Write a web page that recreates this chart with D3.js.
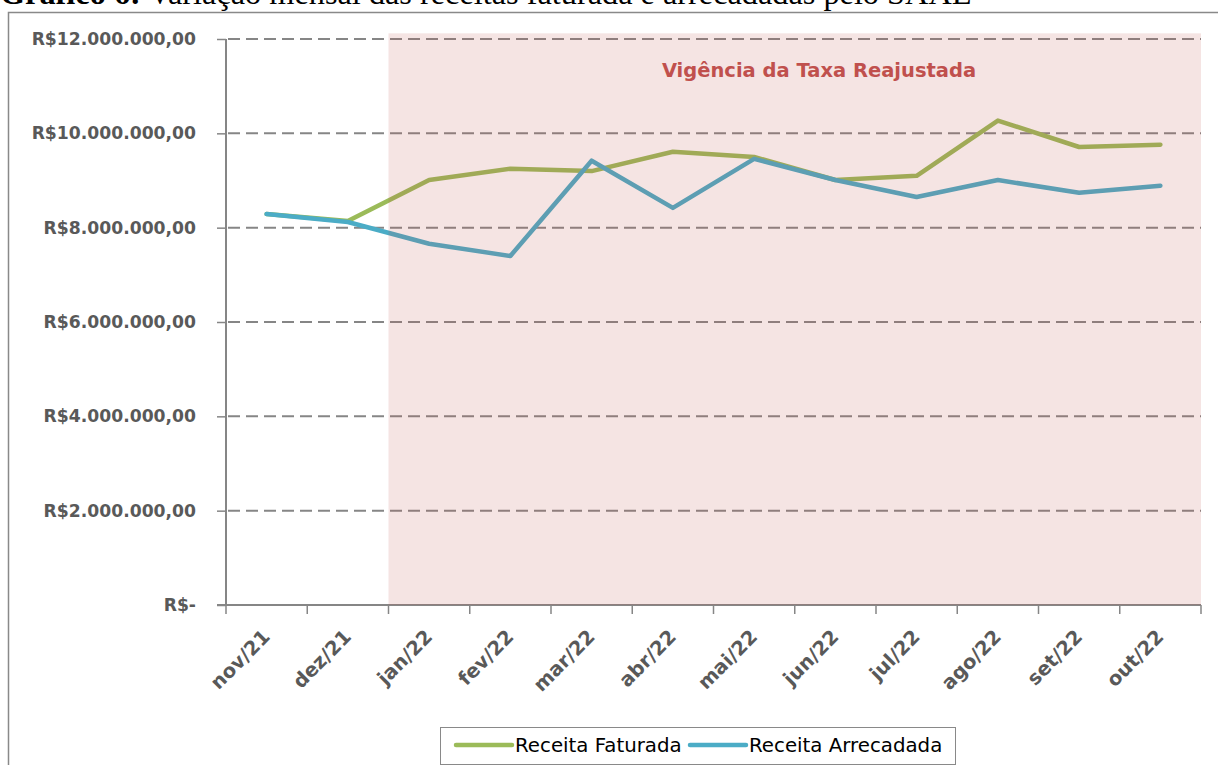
<!DOCTYPE html>
<html>
<head>
<meta charset="utf-8">
<script src="https://cdn.jsdelivr.net/npm/d3@7"></script>
<style>
  body { margin: 0; background: #fff; }
  svg { display: block; }
</style>
</head>
<body>
<svg id="chart" width="1218" height="765"></svg>
<script>
// dados
const months = ["nov/21", "dez/21", "jan/22", "fev/22", "mar/22", "abr/22",
                "mai/22", "jun/22", "jul/22", "ago/22", "set/22", "out/22"];
const faturada = [8290000, 8140000, 9010000, 9250000, 9200000, 9610000,
                  9500000, 9010000, 9100000, 10270000, 9710000, 9760000];
const arrecadada = [8290000, 8120000, 7660000, 7400000, 9420000, 8420000,
                    9460000, 9010000, 8650000, 9010000, 8740000, 8890000];
const yTicks = [0, 2000000, 4000000, 6000000, 8000000, 10000000, 12000000];
const highlightFrom = "jan/22";
const highlightTop = 12120000;
const seriesNames = ["Receita Faturada", "Receita Arrecadada"];
const seriesColors = ["#9bbb59", "#4bacc6"];

const titleBold = "Gráfico 6:";
const titleRest = " Variação mensal das receitas faturada e arrecadadas pelo SAAE";
const highlightLabel = "Vigência da Taxa Reajustada";

const font = "'DejaVu Sans', 'Noto Sans', sans-serif";
const svg = d3.select("#chart");

const ptBR = d3.formatLocale({decimal: ",", thousands: ".", grouping: [3], currency: ["R$", ""]});
const money = ptBR.format("$,.2f");
const fmt = v => v === 0 ? "R$-" : money(v);

const x = d3.scaleBand().domain(months).range([226, 1201]);
const y = d3.scaleLinear().domain([0, 12000000]).range([605, 39]);
const cx = d => x(d) + x.bandwidth() / 2;

// titulo (cortado no topo, como no original)
var title = svg.append("text")
    .attr("x", 0).attr("y", 4)
    .style("font-family", "'Liberation Serif', 'Times New Roman', serif")
    .style("font-size", "32px")
    .style("fill", "#000");
title.append("tspan").style("font-weight", "bold").text(titleBold);
title.append("tspan").text(titleRest);
var tw = title.node().getComputedTextLength();
title.style("font-size", (32 * 972 / tw) + "px");

// moldura
svg.append("rect")
    .attr("x", 8.5).attr("y", 12.5)
    .attr("width", 1240).attr("height", 800)
    .style("fill", "none")
    .style("stroke", "#898989")
    .style("stroke-width", 1.5);

// grade
svg.append("g").selectAll("line")
  .data(yTicks.filter(d => d > 0))
  .enter().append("line")
    .attr("x1", 228).attr("x2", 1201)
    .attr("y1", d => y(d)).attr("y2", d => y(d))
    .style("stroke", "#868686")
    .style("stroke-width", 2)
    .style("stroke-dasharray", "12,6");

// eixo y
var yAxis = d3.axisLeft(y).tickValues(yTicks).tickSize(9).tickFormat(fmt).tickPadding(21);
var gy = svg.append("g").attr("transform", "translate(226,0)").call(yAxis);
gy.select(".domain").style("stroke", "#868686").style("stroke-width", 2)
    .attr("d", `M0,${y(12000000)}V${y(0)}`);
gy.selectAll(".tick line").style("stroke", "#868686").style("stroke-width", 1.5);
gy.selectAll(".tick text")
    .style("font-family", font)
    .style("font-size", "17.2px")
    .style("font-weight", "bold")
    .style("fill", "#595959");

// eixo x
var xAxis = d3.axisBottom(x).tickSize(0).tickFormat(d => d);
var gx = svg.append("g").attr("transform", "translate(0,605)").call(xAxis);
gx.select(".domain").style("stroke", "#868686").style("stroke-width", 2)
    .attr("d", "M217,0H1201");
gx.selectAll(".tick text")
    .style("font-family", font)
    .style("font-size", "19.5px")
    .style("font-weight", "bold")
    .style("fill", "#595959")
    .attr("text-anchor", "end")
    .attr("dy", null)
    .attr("y", 0)
    .attr("transform", "translate(4.5,33) rotate(-45)");
// marcas entre categorias
svg.append("g").selectAll("line")
  .data(months.concat(["end"]))
  .enter().append("line")
    .attr("x1", (d, i) => i < months.length ? x(d) : x.range()[1])
    .attr("x2", (d, i) => i < months.length ? x(d) : x.range()[1])
    .attr("y1", 605).attr("y2", 614)
    .style("stroke", "#868686")
    .style("stroke-width", 1.5);

// linhas
var line = d3.line().x((d, i) => cx(months[i])).y(d => y(d));
[faturada, arrecadada].forEach((s, k) => {
  svg.append("path")
      .datum(s)
      .attr("d", line)
      .style("fill", "none")
      .style("stroke", seriesColors[k])
      .style("stroke-width", 4.5)
      .style("stroke-linecap", "round")
      .style("stroke-linejoin", "round");
});

// periodo da taxa reajustada (sobreposto)
svg.append("rect")
    .attr("x", x(highlightFrom))
    .attr("y", y(highlightTop))
    .attr("width", x.range()[1] - x(highlightFrom))
    .attr("height", y(0) - y(highlightTop))
    .style("fill", "#c0504d")
    .style("fill-opacity", 0.155);

svg.append("text")
    .attr("x", 819).attr("y", 77)
    .attr("text-anchor", "middle")
    .style("font-family", font)
    .style("font-size", "19.5px")
    .style("font-weight", "bold")
    .style("fill", "#c0504d")
    .text(highlightLabel);

// legenda
var legend = svg.append("g");
legend.append("rect")
    .attr("x", 440.5).attr("y", 727.5)
    .attr("width", 515).attr("height", 37)
    .style("fill", "#fff")
    .style("stroke", "#898989")
    .style("stroke-width", 1);
var lx = [456, 690];
seriesNames.forEach((n, k) => {
  legend.append("line")
      .attr("x1", lx[k]).attr("x2", lx[k] + 56)
      .attr("y1", 745).attr("y2", 745)
      .style("stroke", seriesColors[k])
      .style("stroke-width", 4.5)
      .style("stroke-linecap", "round");
  legend.append("text")
      .attr("x", lx[k] + 59).attr("y", 752)
      .style("font-family", font)
      .style("font-size", "19.8px")
      .style("fill", "#000")
      .text(n);
});
</script>
</body>
</html>
